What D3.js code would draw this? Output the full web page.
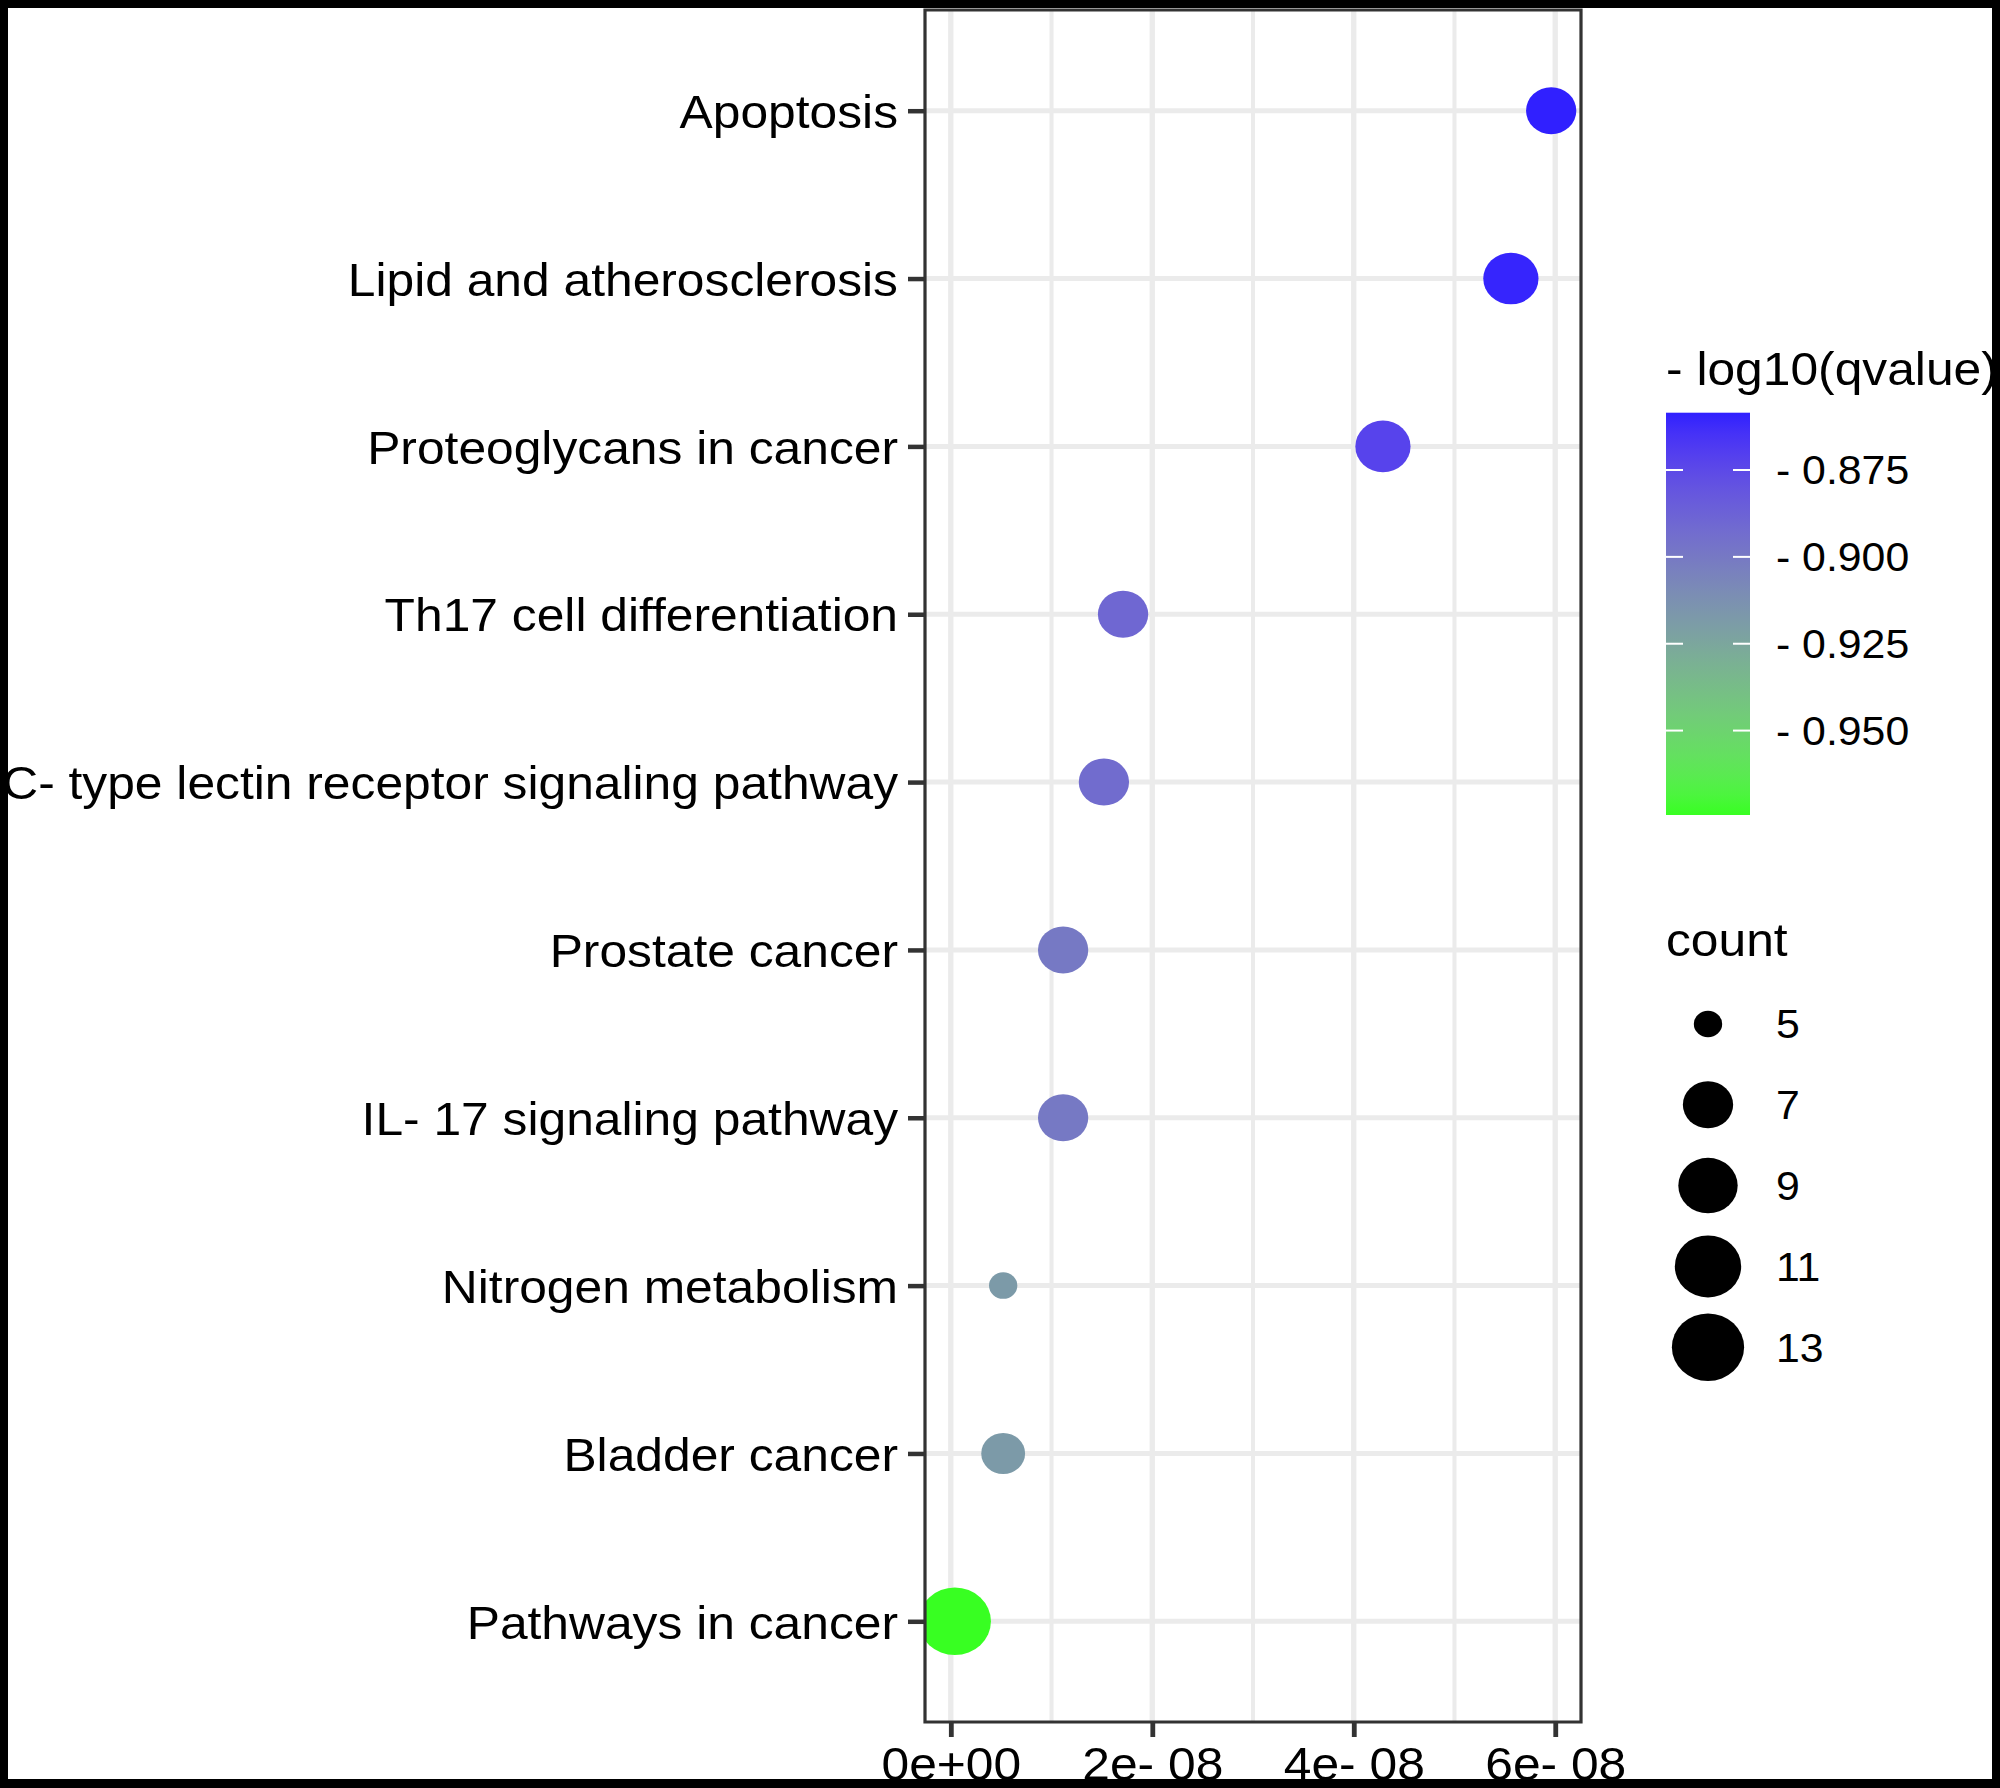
<!DOCTYPE html>
<html lang="en">
<head>
  <meta charset="UTF-8">
  <title>KEGG enrichment dot plot</title>
  <style>
    body { margin: 0; background: #fff; }
    svg { display: block; }
    text { font-family: "Liberation Sans", Arial, Helvetica, sans-serif; fill: #000; }
  </style>
</head>
<body>
  <div id="chart"></div>
  <script src="https://d3js.org/d3.v7.min.js"></script>
  <script>
    // pathways, top to bottom
    var pathways = [
      "Apoptosis",
      "Lipid and atherosclerosis",
      "Proteoglycans in cancer",
      "Th17 cell differentiation",
      "C- type lectin receptor signaling pathway",
      "Prostate cancer",
      "IL- 17 signaling pathway",
      "Nitrogen metabolism",
      "Bladder cancer",
      "Pathways in cancer"
    ];
    var xValues = [5.96e-8, 5.56e-8, 4.29e-8, 1.71e-8, 1.52e-8, 1.115e-8, 1.115e-8, 5.2e-9, 5.2e-9, 4e-10];
    var qValues = [-0.8585, -0.8600, -0.8720, -0.8900, -0.8930, -0.9000, -0.9000, -0.9180, -0.9180, -0.9743];
    var counts  = [7, 8, 8, 7, 7, 7, 7, 5, 6, 13];

    var xMajorTicks = [0, 2e-8, 4e-8, 6e-8];
    var xMinorTicks = [1e-8, 3e-8, 5e-8];
    var colorTicks = [-0.950, -0.925, -0.900, -0.875];
    var countBreaks = [5, 7, 9, 11, 13];

    var W = 2000, H = 1788;
    // the source picture is stretched sideways, so draw in a squeezed frame
    var SX = 1.07;
    function px(v) { return v / SX; }

    var panel = { left: px(925), right: px(1581), top: 10, bottom: 1722 };
    var fontMain = 46.5, fontLegend = 40;

    var svg = d3.select("#chart").append("svg")
      .attr("width", W)
      .attr("height", H);

    svg.append("rect").attr("width", W).attr("height", H).attr("fill", "#fff");

    var g = svg.append("g").attr("transform", "scale(" + SX + ",1)");

    // scales
    var xExt = d3.extent(xValues);
    var xPad = (xExt[1] - xExt[0]) * 0.05;
    var x = d3.scaleLinear()
      .domain([xExt[0] - xPad, xExt[1] + xPad])
      .range([panel.left, panel.right]);

    var y = d3.scalePoint()
      .domain(pathways)
      .range([panel.top, panel.bottom])
      .padding(0.6);

    var color = d3.scaleLinear()
      .domain(d3.extent(qValues))
      .range(["#38ff22", "#3020ff"])
      .interpolate(d3.interpolateLab);

    var sizeT = d3.scaleLinear().domain(d3.extent(counts)).range([0, 1]);
    var diam = d3.scaleLinear().domain([0, 1]).range([26.5, 67.5]);
    function radius(c) { return diam(Math.sqrt(sizeT(c))) / 2; }

    // grid
    var grid = g.append("g");
    grid.selectAll(".minor").data(xMinorTicks).enter().append("line")
      .attr("x1", function(d) { return x(d); }).attr("x2", function(d) { return x(d); })
      .attr("y1", panel.top).attr("y2", panel.bottom)
      .attr("stroke", "#ebebeb").attr("stroke-width", 3.8);
    grid.selectAll(".major").data(xMajorTicks).enter().append("line")
      .attr("x1", function(d) { return x(d); }).attr("x2", function(d) { return x(d); })
      .attr("y1", panel.top).attr("y2", panel.bottom)
      .attr("stroke", "#ebebeb").attr("stroke-width", 5);
    grid.selectAll(".hline").data(pathways).enter().append("line")
      .attr("x1", panel.left).attr("x2", panel.right)
      .attr("y1", function(d) { return y(d); }).attr("y2", function(d) { return y(d); })
      .attr("stroke", "#ebebeb").attr("stroke-width", 5);

    // points
    g.append("clipPath").attr("id", "panel-clip")
      .append("rect")
      .attr("x", panel.left).attr("y", panel.top)
      .attr("width", panel.right - panel.left).attr("height", panel.bottom - panel.top);

    g.append("g").attr("clip-path", "url(#panel-clip)")
      .selectAll("circle").data(pathways).enter().append("circle")
      .attr("cx", function(d, i) { return x(xValues[i]); })
      .attr("cy", function(d) { return y(d); })
      .attr("r", function(d, i) { return radius(counts[i]); })
      .attr("fill", function(d, i) { return color(qValues[i]); });

    // panel border
    g.append("rect")
      .attr("x", panel.left).attr("y", panel.top)
      .attr("width", panel.right - panel.left).attr("height", panel.bottom - panel.top)
      .attr("fill", "none").attr("stroke", "#333").attr("stroke-width", 3);

    // axes
    function sciLabel(d) {
      if (d === 0) return "0e+00";
      var e = Math.floor(Math.log10(Math.abs(d)) + 1e-9);
      var m = Math.round(d / Math.pow(10, e));
      var ee = String(Math.abs(e)).padStart(2, "0");
      return m + "e" + (e < 0 ? "- " : "+") + ee;
    }

    var xAxis = g.append("g")
      .attr("transform", "translate(0," + panel.bottom + ")")
      .call(d3.axisBottom(x).tickValues(xMajorTicks).tickFormat(sciLabel).tickSize(15).tickPadding(10));
    xAxis.select(".domain").remove();
    xAxis.selectAll(".tick line").attr("stroke", "#333").attr("stroke-width", 4.5);
    xAxis.selectAll(".tick text").attr("font-size", fontMain).attr("fill", "#000");

    var yAxis = g.append("g")
      .attr("transform", "translate(" + panel.left + ",0)")
      .call(d3.axisLeft(y).tickSize(px(17)).tickPadding(px(10)));
    yAxis.select(".domain").remove();
    yAxis.selectAll(".tick line").attr("stroke", "#333").attr("stroke-width", 4.5);
    yAxis.selectAll(".tick text").attr("font-size", fontMain).attr("fill", "#000").attr("dy", "0.36em");

    // colour legend
    var bar = { left: px(1666), right: px(1750), top: 412.7, bottom: 815 };
    var barY = d3.scaleLinear().domain(color.domain()).range([bar.bottom, bar.top]);

    var grad = g.append("defs").append("linearGradient")
      .attr("id", "qgrad").attr("x1", 0).attr("y1", 1).attr("x2", 0).attr("y2", 0);
    d3.range(0, 1.0001, 0.05).forEach(function(t) {
      var v = color.domain()[0] + t * (color.domain()[1] - color.domain()[0]);
      grad.append("stop").attr("offset", t).attr("stop-color", color(v));
    });

    g.append("text")
      .attr("x", px(1666)).attr("y", 385)
      .attr("font-size", fontMain)
      .text("- log10(qvalue)");

    g.append("rect")
      .attr("x", bar.left).attr("y", bar.top)
      .attr("width", bar.right - bar.left).attr("height", bar.bottom - bar.top)
      .attr("fill", "url(#qgrad)");

    var cticks = g.append("g").selectAll("g").data(colorTicks).enter().append("g");
    cticks.append("line")
      .attr("x1", bar.left).attr("x2", bar.left + px(17))
      .attr("y1", function(d) { return barY(d); }).attr("y2", function(d) { return barY(d); })
      .attr("stroke", "#fff").attr("stroke-width", 2);
    cticks.append("line")
      .attr("x1", bar.right - px(17)).attr("x2", bar.right)
      .attr("y1", function(d) { return barY(d); }).attr("y2", function(d) { return barY(d); })
      .attr("stroke", "#fff").attr("stroke-width", 2);
    cticks.append("text")
      .attr("x", px(1776)).attr("y", function(d) { return barY(d); })
      .attr("dy", "0.36em")
      .attr("font-size", fontLegend)
      .text(function(d) { return "- " + Math.abs(d).toFixed(3); });

    // size legend
    g.append("text")
      .attr("x", px(1666)).attr("y", 956)
      .attr("font-size", fontMain)
      .text("count");

    var keys = g.append("g").selectAll("g").data(countBreaks).enter().append("g")
      .attr("transform", function(d, i) { return "translate(0," + (1024 + i * 80.8) + ")"; });
    keys.append("circle")
      .attr("cx", px(1708)).attr("cy", 0)
      .attr("r", function(d) { return radius(d); })
      .attr("fill", "#000");
    keys.append("text")
      .attr("x", px(1776)).attr("y", 0).attr("dy", "0.36em")
      .attr("font-size", fontLegend)
      .text(function(d) { return d; });

    // black frame round the picture
    svg.append("rect").attr("x", 0).attr("y", 0).attr("width", W).attr("height", 8).attr("fill", "#000");
    svg.append("rect").attr("x", 0).attr("y", 0).attr("width", 8).attr("height", H).attr("fill", "#000");
    svg.append("rect").attr("x", W - 8).attr("y", 0).attr("width", 8).attr("height", H).attr("fill", "#000");
    svg.append("rect").attr("x", 0).attr("y", 1779).attr("width", W).attr("height", H - 1779).attr("fill", "#000");
  </script>
</body>
</html>
